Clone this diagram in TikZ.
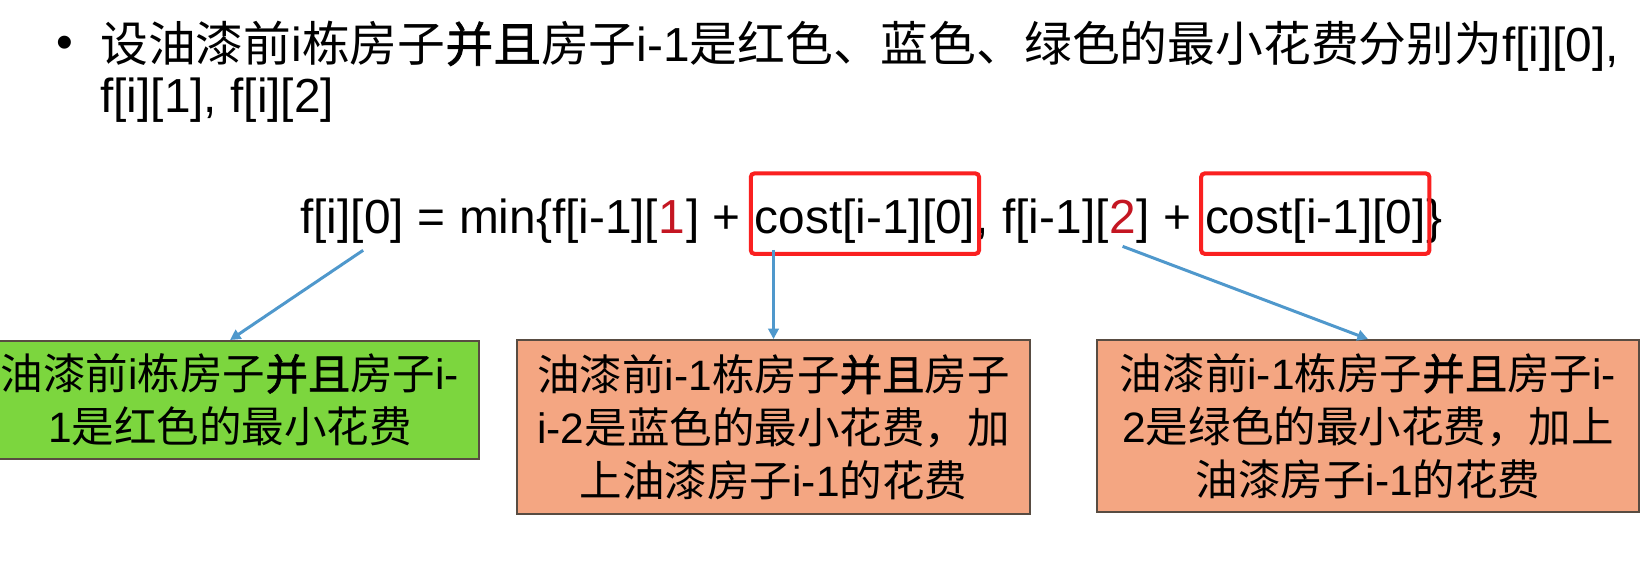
\documentclass[tikz,border=0pt]{standalone}
\usepackage{fontspec}
\usepackage{xcolor}
\usepackage{tikz}
\setmainfont{Liberation Sans}
\newfontfamily\cjkfont{Noto Sans CJK SC}[BoldFont={Noto Sans CJK SC},BoldFeatures={FakeBold=1.3}]
\newcommand{\zh}[1]{{\cjkfont #1}}
\usetikzlibrary{calc}
\usetikzlibrary{fit}
\usetikzlibrary{arrows.meta}
\definecolor{boxgreen}{RGB}{124,214,62}
\definecolor{boxorange}{RGB}{244,166,130}
\definecolor{boxline}{RGB}{88,76,66}
\definecolor{linkblue}{RGB}{79,152,204}
\definecolor{idxred}{RGB}{196,22,34}
\definecolor{framered}{RGB}{250,32,32}

\begin{document}
\begin{tikzpicture}[x=0.02cm,y=-0.02cm,
	formula/.style={inner sep=0pt,anchor=base west,font=\fontsize{27.2}{30}\selectfont},
	boxtext/.style={draw=boxline,line width=1.1pt,align=center,inner sep=0pt,font=\fontsize{24.2}{30}\selectfont},
	greenbox/.style={boxtext,fill=boxgreen},
	orangebox/.style={boxtext,fill=boxorange},
	redframe/.style={draw=framered,line width=2.3pt,rounded corners=2pt,inner xsep=2pt,inner ysep=10pt,yshift=4pt},
	link/.style={draw=linkblue,line width=1.7pt,-{Triangle[length=6pt,width=6pt]}}]
	\clip (0,0) rectangle (1652,562);
	\fill[white] (0,0) rectangle (1652,562);
	\node[inner sep=0pt,font=\fontsize{27.2}{30}\selectfont] (bullet) at (65,47) {•};
	\node[anchor=west,align=left,inner sep=0pt,font=\fontsize{27.2}{28.9}\selectfont] (intro) at (100,72)
		{\zh{设油漆前}i\zh{栋房子\textbf{并且}房子}i-1\zh{是红色、蓝色、绿色的最小花费分别为}f[i][0],\\f[i][1], f[i][2]};

	\node[formula] (lhs) at (300,233) {f[i][0]};
	\node[formula] (mid1) at (lhs.base east) {\ =\ min\{f[i-1][};
	\node[formula,text=idxred] (one) at (mid1.base east) {1};
	\node[formula] (mid2) at (one.base east) {]\ +\ \null};
	\node[formula] (cost1) at (mid2.base east) {cost[i-1][0]};
	\node[formula] (mid3) at (cost1.base east) {,\ f[i-1][};
	\node[formula,text=idxred] (two) at (mid3.base east) {2};
	\node[formula] (mid4) at (two.base east) {]\ +\ \null};
	\node[formula] (cost2) at (mid4.base east) {cost[i-1][0]};
	\node[formula] (close) at (cost2.base east) {\}};
	\node[redframe,fit=(cost1)] (frame1) {};
	\node[redframe,fit=(cost2)] (frame2) {};

	\node[greenbox,minimum width=9.96cm,minimum height=2.36cm] (gbox) at (230,400)
		{\zh{油漆前}i\zh{栋房子\textbf{并且}房子}i-\\1\zh{是红色的最小花费}};
	\node[orangebox,minimum width=10.26cm,minimum height=3.48cm] (obox1) at (773.5,427)
		{\zh{油漆前}i-1\zh{栋房子\textbf{并且}房子}\\i-2\zh{是蓝色的最小花费，加}\\\zh{上油漆房子}i-1\zh{的花费}};
	\node[orangebox,minimum width=10.84cm,minimum height=3.44cm] (obox2) at (1368,426)
		{\zh{油漆前}i-1\zh{栋房子\textbf{并且}房子}i-\\2\zh{是绿色的最小花费，加上}\\\zh{油漆房子}i-1\zh{的花费}};

	\draw[link] ($(lhs.south)+(11,7)$) -- (gbox.north);
	\draw[link] ($(frame1.south -| obox1.north)+(0,-6)$) -- (obox1.north);
	\draw[link] ($(two.south)+(0,13)$) -- (obox2.north);
\end{tikzpicture}
\end{document}
